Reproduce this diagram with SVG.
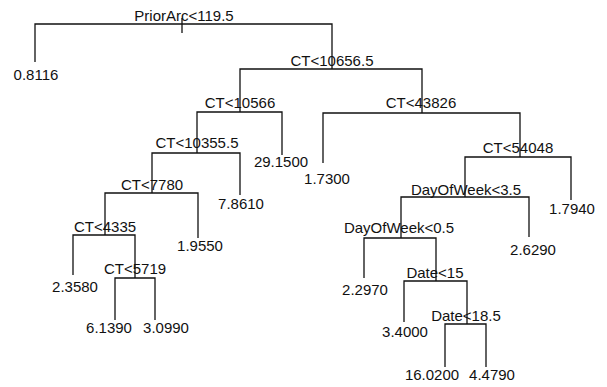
<svg xmlns="http://www.w3.org/2000/svg" width="607" height="387" viewBox="0 0 607 387">
<style>
  .e { fill: none; stroke: #111; stroke-width: 1.3; }
  text { font-family: "Liberation Sans", Arial, sans-serif; font-size: 15px; fill: #111; text-anchor: middle; }
</style>
<rect width="607" height="387" fill="#fff"/>
<g id="connectors">
  <path class="e" d="M182,18 V33"/>
  <path class="e" d="M35,62 V24 H332 V69"/>
  <path class="e" d="M240,112 V69 H422 V113"/>
  <path class="e" d="M197,153 V112 H282 V155"/>
  <path class="e" d="M152,193 V153 H240 V195"/>
  <path class="e" d="M105,235 V193 H198 V238"/>
  <path class="e" d="M73,275 V235 H135 V278"/>
  <path class="e" d="M115,320 V278 H155 V320"/>
  <path class="e" d="M323,163 V113 H520 V157"/>
  <path class="e" d="M465,197 V157 H571 V200"/>
  <path class="e" d="M401,238 V197 H529 V237"/>
  <path class="e" d="M364,278 V238 H436 V281"/>
  <path class="e" d="M404,322 V281 H467 V324"/>
  <path class="e" d="M445,367 V324 H486 V367"/>
</g>
<g id="n_root"><text x="184" y="21">PriorArc&lt;119.5</text></g>
<g id="n_leaf_08116"><text x="36" y="80">0.8116</text></g>
<g id="n_ct10656"><text x="332" y="66">CT&lt;10656.5</text></g>
<g id="n_ct10566"><text x="240" y="108">CT&lt;10566</text></g>
<g id="n_leaf_291500"><text x="281" y="167">29.1500</text></g>
<g id="n_ct10355"><text x="197" y="148">CT&lt;10355.5</text></g>
<g id="n_leaf_78610"><text x="241" y="209">7.8610</text></g>
<g id="n_ct7780"><text x="152" y="190">CT&lt;7780</text></g>
<g id="n_leaf_19550"><text x="200" y="251">1.9550</text></g>
<g id="n_ct4335"><text x="105" y="232">CT&lt;4335</text></g>
<g id="n_leaf_23580"><text x="75" y="292">2.3580</text></g>
<g id="n_ct5719"><text x="135" y="274">CT&lt;5719</text></g>
<g id="n_leaf_61390"><text x="109" y="333">6.1390</text></g>
<g id="n_leaf_30990"><text x="166" y="333">3.0990</text></g>
<g id="n_ct43826"><text x="421" y="108">CT&lt;43826</text></g>
<g id="n_leaf_17300"><text x="327" y="184">1.7300</text></g>
<g id="n_ct54048"><text x="518" y="153">CT&lt;54048</text></g>
<g id="n_leaf_17940"><text x="572" y="214">1.7940</text></g>
<g id="n_dow35"><text x="466" y="195">DayOfWeek&lt;3.5</text></g>
<g id="n_leaf_26290"><text x="533" y="255">2.6290</text></g>
<g id="n_dow05"><text x="399" y="233">DayOfWeek&lt;0.5</text></g>
<g id="n_leaf_22970"><text x="365" y="295">2.2970</text></g>
<g id="n_date15"><text x="435" y="278">Date&lt;15</text></g>
<g id="n_leaf_34000"><text x="405" y="337">3.4000</text></g>
<g id="n_date185"><text x="466" y="321">Date&lt;18.5</text></g>
<g id="n_leaf_160200"><text x="432" y="380">16.0200</text></g>
<g id="n_leaf_44790"><text x="492" y="380">4.4790</text></g>
</svg>
